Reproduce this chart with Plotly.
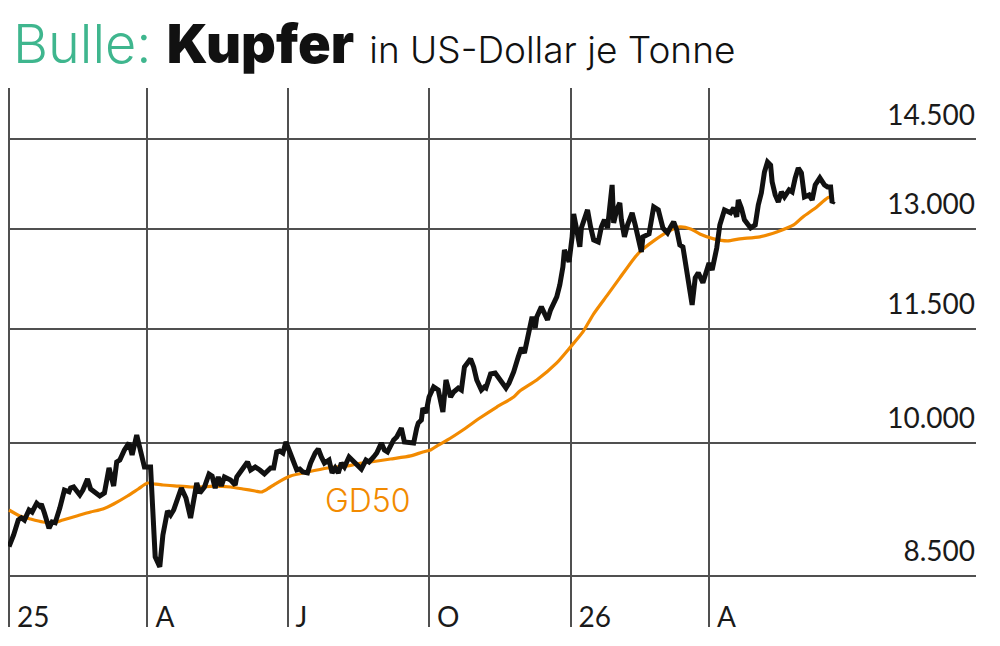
import math
import pandas as pd
import plotly.graph_objects as go

# ---- Data ----
# Kupferpreis (USD je Tonne); Tage seit dem 1.1.2025
price_day = [0, 3, 6, 8, 10, 13, 15, 18, 20, 21, 23, 26, 28, 30, 33, 36, 39, 40, 42, 46,
             48, 51, 53, 56, 59, 62, 65, 68, 70, 72, 75, 78, 80, 83, 86, 88, 92, 93, 95, 98,
             100, 103, 105, 107, 110, 112, 115, 118, 121, 122, 124, 127, 130, 132,
             134, 136, 138, 140, 144, 147, 148, 151, 155, 157, 160, 163, 166, 170, 172, 174,
             176, 178, 180, 182, 185, 187, 189, 191, 194, 196, 199, 201, 203, 205, 208, 210,
             212, 214, 216, 218, 221, 224, 227, 229, 232, 234, 237, 239, 242, 244, 246, 248,
             250, 252, 255, 257, 260, 263, 265, 266, 268, 269, 271,
             273, 276, 279, 282, 284, 287, 289, 292, 294, 296, 300, 302, 304, 307, 309, 310,
             313, 316, 318, 321, 323, 325, 328, 331, 333, 335, 338, 340, 342, 343, 346, 347,
             350, 352, 354, 356, 358, 360, 361, 363, 364, 366, 367, 369, 371, 372, 374, 376,
             378, 380, 383, 385, 387, 389, 392, 393, 395, 397, 398, 400, 402, 405, 407, 410, 411,
             412, 416, 419, 422, 425, 428, 430, 432, 434, 436, 438, 441, 444, 446, 448, 451,
             455, 457, 460, 462, 465, 469, 471, 473, 474, 476, 478, 482, 485, 487, 489, 491,
             493, 495, 496, 498, 500, 502, 504, 507, 509, 511, 513, 515, 517, 520, 522, 524,
             527, 530, 532, 534, 535, 536]
price = [8810, 8935, 9101, 9125, 9100, 9213, 9190, 9290, 9258, 9280, 9180, 9010, 9080, 9070, 9235, 9441, 9420, 9464, 9476, 9384,
         9441, 9569, 9453, 9418, 9372, 9407, 9699, 9487, 9770, 9794, 9915, 10000, 9855, 10098, 9830, 9711, 9711, 9236, 8699, 8594,
         8935, 9202, 9157, 9213, 9360, 9464, 9349, 9123, 9418, 9522, 9407, 9476, 9628, 9604,
         9464, 9592, 9487, 9592, 9557, 9499, 9592, 9675, 9770, 9675, 9711, 9675, 9628, 9699, 9699, 9891,
         9903, 9879, 10012, 9915, 9758, 9675, 9687, 9651, 9640, 9758, 9879, 9927, 9830, 9758, 9794, 9640,
         9699, 9640, 9758, 9711, 9830, 9782, 9735, 9687, 9794, 9770, 9830, 9879, 10000, 9915, 9891, 9963,
         10037, 10074, 10185, 10012, 10000, 10000, 10185, 10248, 10285, 10438, 10374,
         10578, 10709, 10670, 10387, 10801, 10578, 10644, 10696, 10670, 10975, 11084, 10975, 10801, 10670, 10709, 10696,
         10881, 10895, 10841, 10761, 10696, 10761, 10908, 11111, 11235, 11166, 11456, 11669, 11512, 11669, 11812, 11769,
         11626, 11769, 11885, 11958, 12135, 12404, 12665, 12542, 12481, 12868, 13236, 12978, 12712, 13010, 13187, 13300,
         13026, 12821, 12790, 13026, 13139, 13010, 13713, 13091, 13300, 13415, 13139, 12868, 13058, 13252, 13058, 12665, 12634,
         12868, 12915, 13349, 13300, 13010, 12931, 13026, 13107, 12978, 12743, 12712, 12239, 11841, 12239, 12314, 12165,
         12465, 12359, 12696, 13058, 13300, 13252, 13333, 13187, 13464, 13333, 13139, 13010, 13058, 13382, 13580, 13932,
         14103, 14051, 13763, 13546, 13431, 13596, 13513, 13629, 13596, 13831, 14000, 13915, 13513, 13546, 13464, 13713,
         13831, 13713, 13680, 13680, 13415, 13448]

# GD50 (50-Tage-Durchschnitt)
gd_day = [0, 7, 14, 22, 29, 35, 44, 53, 61, 68, 77, 84, 90, 95, 100, 109, 118, 124, 133, 144,
          152, 160, 164, 168, 174, 183, 194, 207, 220, 226, 235, 248, 261, 269, 274, 278, 285, 295, 306, 317,
          328, 332, 343, 356, 365, 373, 380, 389, 397, 406, 410, 419, 428, 436, 443, 449, 458, 467, 475, 488,
          499, 510, 516, 525, 532, 536]
gd50 = [9213, 9146, 9112, 9079, 9068, 9101, 9146, 9190, 9224, 9281, 9372, 9453, 9522, 9510, 9499, 9487, 9476, 9476, 9487, 9476,
        9453, 9430, 9418, 9453, 9522, 9604, 9651, 9699, 9723, 9746, 9770, 9806, 9843, 9891, 9915, 9963, 10037, 10160, 10310, 10450,
        10579, 10657, 10801, 11029, 11248, 11456, 11712, 11987, 12239, 12526, 12634, 12805, 12947, 13026, 12994, 12915, 12837, 12805, 12837, 12868,
        12947, 13058, 13187, 13349, 13497, 13530]

x_tick_dates = ["2025-01-01", "2025-04-01", "2025-07-01", "2025-10-01", "2026-01-01", "2026-04-01"]
x_tick_labels = ["25", "A", "J", "O", "26", "A"]
y_ticks = [8500, 10000, 11500, 13000, 14500]

gd_label_date = "2025-07-24"
gd_label_value = 9326

start = pd.Timestamp("2025-01-01")
price_dates = start + pd.to_timedelta(price_day, unit="D")
gd_dates = start + pd.to_timedelta(gd_day, unit="D")

ORANGE = "#f28a00"
GREEN = "#3fb68e"
GRID = "#505050"
FONT = "Lato"
TFONT = "Inter"

fig = go.Figure()
fig.add_trace(go.Scatter(x=gd_dates, y=gd50, mode="lines",
                         line=dict(color=ORANGE, width=3.2, shape="spline", smoothing=0.6),
                         hoverinfo="skip"))
fig.add_trace(go.Scatter(x=price_dates, y=price, mode="lines",
                         line=dict(color="#111111", width=5, shape="linear"),
                         hoverinfo="skip"))

# annotations on a log axis take log10 positions
fig.add_annotation(x=gd_label_date, y=math.log10(gd_label_value), xref="x", yref="y",
                   yanchor="middle", xanchor="left",
                   text="GD50", showarrow=False,
                   font=dict(family=TFONT, size=32, color=ORANGE, weight=300))

fig.update_layout(
    width=1000, height=646,
    margin=dict(l=8, r=24, t=88, b=19),
    paper_bgcolor="white", plot_bgcolor="white",
    showlegend=False,
    separators=",.",
    font=dict(family=FONT, color="#1a1a1a"),
    title=dict(
        text=("<span style='color:" + GREEN + ";font-weight:300'>Bulle:</span> "
              "<span style='font-weight:900'>Kupfer</span> "
              "<span style='font-size:37px;font-weight:300'>in US-Dollar je Tonne</span>"),
        x=0.013, xanchor="left", xref="container",
        y=1 - 44 / 646, yanchor="middle", yref="container",
        font=dict(family=TFONT, size=54, color="#111111"),
    ),
    xaxis=dict(
        type="date",
        range=["2024-12-31 08:00", "2026-09-21 12:00"],
        tickvals=x_tick_dates, ticktext=x_tick_labels,
        showgrid=True, gridcolor=GRID, gridwidth=1.5,
        zeroline=False, showline=False, ticks="",
        ticklabelposition="inside right",
        ticklabelstandoff=-12, ticklabelshift=8,
        tickfont=dict(family=FONT, size=28, color="#1a1a1a"),
    ),
    yaxis=dict(
        type="log",
        range=[3.90223, 4.18863],
        side="right",
        tickvals=y_ticks, tickformat=",d",
        showgrid=True, gridcolor=GRID, gridwidth=1.5,
        zeroline=False, showline=False, ticks="",
        ticklabelposition="inside top",
        ticklabelshift=-5, ticklabelstandoff=-2,
        tickfont=dict(family=FONT, size=28, color="#1a1a1a"),
    ),
)

fig.write_html("out.html")
